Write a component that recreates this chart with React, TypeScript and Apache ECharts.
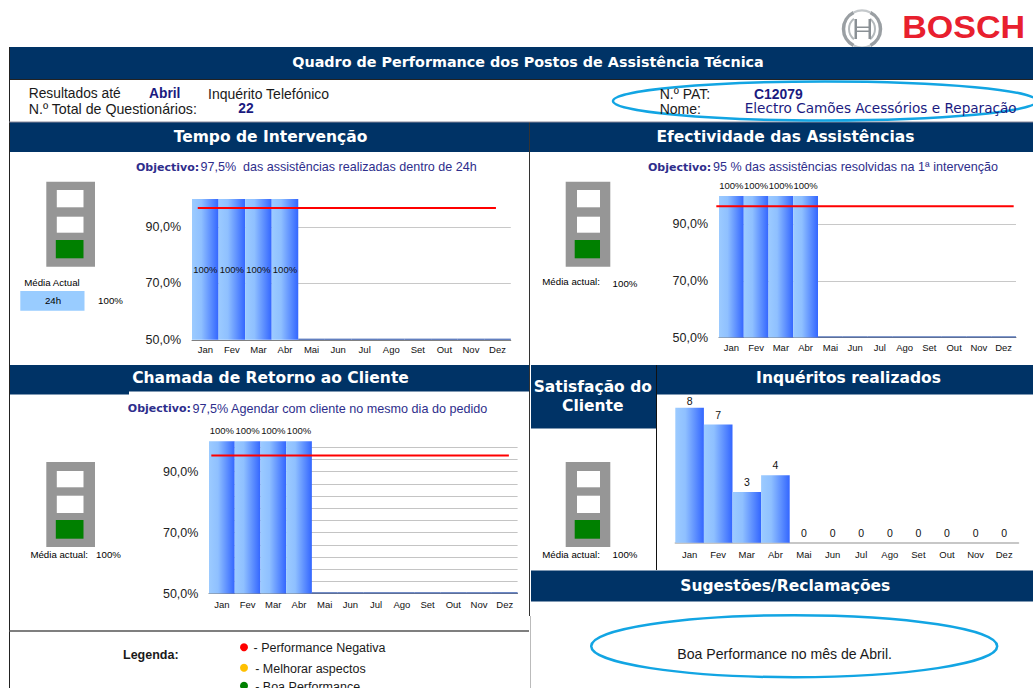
import React, { useEffect, useRef } from "react";
import * as echarts from "echarts";

const months = ["Jan", "Fev", "Mar", "Abr", "Mai", "Jun", "Jul", "Ago", "Set", "Out", "Nov", "Dez"];
const tempoValues = [100, 100, 100, 100, 50.4, 50.4, 50.4, 50.4, 50.4, 50.4, 50.4, 50.4];
const efectividadeValues = [100, 100, 100, 100, 50.4, 50.4, 50.4, 50.4, 50.4, 50.4, 50.4, 50.4];
const chamadaValues = [100, 100, 100, 100, 50.4, 50.4, 50.4, 50.4, 50.4, 50.4, 50.4, 50.4];
const inqueritosValues = [8, 7, 3, 4, 0, 0, 0, 0, 0, 0, 0, 0];
const tempoTarget = [96.8, 96.8, 96.8, 96.8, 96.8, 96.8, 96.8, 96.8, 96.8, 96.8, 96.8, 96.8];
const efectividadeTarget = [96.4, 96.4, 96.4, 96.4, 96.4, 96.4, 96.4, 96.4, 96.4, 96.4, 96.4, 96.4];
const chamadaTarget = [95.3, 95.3, 95.3, 95.3, 95.3, 95.3, 95.3, 95.3, 95.3, 95.3, 95.3, 95.3];
const yTickLabels = [50, 70, 90];

const NAVY = "#003366";
const INK = "#1A1A80";
const GOAL = "#2E2E8C";
const ARIAL = '"Liberation Sans", Arial, sans-serif';
const WIDE = '"DejaVu Sans", Verdana, sans-serif';
const barGradient = {
  type: "linear", x: 0, y: 0, x2: 1, y2: 0,
  colorStops: [
    { offset: 0, color: "#9CCBFF" },
    { offset: 0.35, color: "#8FC0FF" },
    { offset: 1, color: "#3366FF" },
  ],
};

const rect = (x: number, y: number, w: number, h: number, fill: string) => ({
  type: "rect", shape: { x, y, width: w, height: h }, style: { fill }, silent: true,
});
const txt = (
  x: number, y: number, text: string, size: number,
  o: { fill?: string; weight?: string; family?: string; align?: string; scaleX?: number } = {}
) => ({
  type: "text", x, y, scaleX: o.scaleX || 1, silent: true, z: 10,
  style: {
    text,
    fill: o.fill || "#1a1a1a",
    fontSize: size,
    fontWeight: o.weight || "normal",
    fontFamily: o.family || ARIAL,
    align: o.align || "left",
    textAlign: o.align || "left",
    verticalAlign: "middle",
    textVerticalAlign: "middle",
  },
});
const title = (x: number, y: number, text: string, size = 15.5) =>
  txt(x, y, text, size, { fill: "#fff", weight: "bold", family: WIDE, align: "center" });
const vline = (x: number, y1: number, y2: number, stroke: string, w = 1) => ({
  type: "line", shape: { x1: x, y1, x2: x, y2 }, style: { stroke, lineWidth: w }, silent: true,
});
const hline = (x1: number, x2: number, y: number, stroke: string, w = 1) => ({
  type: "line", shape: { x1, y1: y, x2, y2: y }, style: { stroke, lineWidth: w }, silent: true,
});
const light = (x: number, w: number, y: number, wx: number, ww: number, gx: number, gw: number, ys: number[]) => [
  rect(x, y, w, 85, "#969696"),
  rect(wx, ys[0], ww, ys[1] - ys[0], "#fff"),
  rect(wx, ys[2], ww, ys[3] - ys[2], "#fff"),
  rect(gx, ys[4], gw, ys[5] - ys[4], "#008000"),
];
const ellipse = (cx: number, cy: number, rx: number, ry: number, w: number) => ({
  type: "ellipse", shape: { cx, cy, rx, ry }, style: { fill: "none", stroke: "#12A5E3", lineWidth: w }, silent: true, z: 5,
});
const logoArc = (r: number, a1: number, a2: number, stroke: string, w: number) => ({
  type: "arc", shape: { cx: 862, cy: 29, r, startAngle: a1, endAngle: a2 }, style: { fill: "none", stroke, lineWidth: w }, silent: true,
});

const graphicElements: any[] = [
  // logo
  logoArc(18.5, -1.1, 1.1, "#9A9FA3", 3.5),
  logoArc(18.5, Math.PI - 1.1, Math.PI + 1.1, "#9A9FA3", 3.5),
  logoArc(18.5, 1.1, Math.PI - 1.1, "#C4C8CB", 2),
  logoArc(18.5, Math.PI + 1.1, -1.1 + 2 * Math.PI, "#C4C8CB", 2),
  logoArc(13, -0.9, 0.9, "#B4B9BC", 2),
  logoArc(13, Math.PI - 0.9, Math.PI + 0.9, "#B4B9BC", 2),
  rect(854.5, 19, 2.5, 20, "#8A9095"),
  rect(868.5, 19, 2.5, 20, "#8A9095"),
  rect(856, 26.5, 13, 1.5, "#8A9095"),
  rect(856, 30.5, 13, 1.5, "#8A9095"),
  txt(1025, 26.5, "BOSCH", 31.5, { fill: "#E8202E", weight: "bold", align: "right", scaleX: 1.08 }),

  // bands
  rect(9, 47, 1024, 32, NAVY),
  rect(9, 122, 520, 30, NAVY),
  rect(530, 122, 503, 30, NAVY),
  rect(9, 365, 120, 29.5, NAVY),
  rect(129, 365, 400, 26.5, NAVY),
  rect(531, 365, 125, 63.5, NAVY),
  rect(657, 365, 376, 29.5, NAVY),
  rect(531, 570.5, 502, 31, NAVY),

  // frame lines
  vline(9.5, 47, 688, "#222"),
  vline(529.5, 122, 365, "#333"),
  vline(529.5, 365, 616, "#333"),
  vline(530.5, 616, 688, "#bbb"),
  vline(656.5, 365, 570, "#111"),
  hline(9, 1033, 79.5, "#222"),
  hline(9, 1033, 122, "#889"),
  hline(9, 529, 631, "#555", 1.5),

  // titles
  title(528, 62, "Quadro de Performance dos Postos de Assistência Técnica", 14.35),
  title(270.5, 137, "Tempo de Intervenção"),
  title(785.5, 137, "Efectividade das Assistências"),
  title(270.5, 378.3, "Chamada de Retorno ao Cliente"),
  title(592.8, 386.7, "Satisfação do"),
  title(592.8, 406, "Cliente"),
  title(848.5, 378.3, "Inquéritos realizados"),
  title(785.3, 586, "Sugestões/Reclamações"),

  // info row
  txt(28.7, 93.5, "Resultados até", 13.8),
  txt(149, 93.5, "Abril", 13.8, { fill: INK, weight: "bold" }),
  txt(208, 93.5, "Inquérito Telefónico", 14),
  txt(28.7, 108.7, "N.º Total de Questionários:", 14.2),
  txt(238.3, 108.7, "22", 13.8, { fill: INK, weight: "bold" }),
  txt(659.7, 93.5, "N.º PAT:", 14),
  txt(754, 93.5, "C12079", 13.9, { fill: INK, weight: "bold" }),
  txt(659.7, 108.7, "Nome:", 14),
  txt(744.7, 107.5, "Electro Camões Acessórios e Reparação", 13.6, { fill: INK, family: WIDE }),
  ellipse(825, 101, 212, 19.5, 2.5),

  // objectives
  txt(136, 167.3, "Objectivo:", 11, { fill: GOAL, weight: "bold", family: WIDE }),
  txt(200.5, 167.3, "97,5%  das assistências realizadas dentro de 24h", 12.55, { fill: GOAL }),
  txt(648, 167.3, "Objectivo:", 11, { fill: GOAL, weight: "bold", family: WIDE }),
  txt(713, 167.3, "95 % das assistências resolvidas na 1ª intervenção", 12.55, { fill: GOAL }),
  txt(127.8, 408.7, "Objectivo:", 11, { fill: GOAL, weight: "bold", family: WIDE }),
  txt(192.5, 408.7, "97,5% Agendar com cliente no mesmo dia do pedido", 12.6, { fill: GOAL }),

  // traffic lights
  ...light(46.3, 48.7, 181.7, 56.8, 26.7, 55.8, 27.7, [190, 207.3, 216.7, 232.7, 240, 258.3]),
  ...light(565.7, 44.6, 181.7, 577, 23, 574.7, 25.3, [190, 207.3, 216.7, 232.7, 240, 258.3]),
  ...light(46.3, 48.7, 462, 56.8, 26.7, 55.8, 27.7, [471, 487.3, 495.7, 513, 520, 538.7]),
  ...light(565.7, 44.6, 462, 577, 23, 574.7, 25.3, [471, 487.3, 495.7, 513, 520, 538.7]),

  // averages
  txt(52, 282.7, "Média Actual", 9.7, { fill: "#000", align: "center" }),
  rect(20.3, 291, 64.2, 19.7, "#99CCFF"),
  txt(53, 300, "24h", 9.7, { fill: "#000", align: "center" }),
  txt(110.5, 300, "100%", 9.7, { fill: "#000", align: "center" }),
  txt(542.3, 281.7, "Média actual:", 9.7, { fill: "#000" }),
  txt(625, 283, "100%", 9.7, { fill: "#000", align: "center" }),
  txt(30.4, 554.7, "Média actual:", 9.7, { fill: "#000" }),
  txt(108.5, 554.7, "100%", 9.7, { fill: "#000", align: "center" }),
  txt(542.3, 554.7, "Média actual:", 9.7, { fill: "#000" }),
  txt(625, 554.7, "100%", 9.7, { fill: "#000", align: "center" }),

  // legend
  txt(123, 655.3, "Legenda:", 12.5, { weight: "bold" }),
  { type: "circle", shape: { cx: 244, cy: 647.3, r: 4 }, style: { fill: "#FF0000" }, silent: true },
  txt(253.5, 648.3, "- Performance Negativa", 12.5),
  { type: "circle", shape: { cx: 244, cy: 667.7, r: 4 }, style: { fill: "#FFC000" }, silent: true },
  txt(255.2, 668.5, "- Melhorar aspectos", 12.5),
  { type: "circle", shape: { cx: 244, cy: 685.7, r: 4 }, style: { fill: "#008000" }, silent: true },
  txt(255.2, 687, "- Boa Performance", 12.5),

  // comment
  ellipse(794.2, 646.2, 203, 31, 2.5),
  txt(677.3, 653.7, "Boa Performance no mês de Abril.", 14.1),
];

type Panel = {
  left: number; width: number; top: number; bottom: number;
  redLeft: number; redWidth: number; interval: number; labelPos: string; labelMargin: number; monthMargin: number;
  values: number[]; target: number[]; gridStroke: string;
};

const panels: Panel[] = [
  { left: 192, width: 318.8, top: 199, bottom: 339.8, redLeft: 184.2, redWidth: 325.3, interval: 20, labelPos: "inside", labelMargin: 11, monthMargin: 5, values: tempoValues, target: tempoTarget, gridStroke: "#c8c8c8" },
  { left: 719, width: 297, top: 196, bottom: 337.5, redLeft: 702.8, redWidth: 324.4, interval: 20, labelPos: "top", labelMargin: 11, monthMargin: 5, values: efectividadeValues, target: efectividadeTarget, gridStroke: "#c8c8c8" },
  { left: 209, width: 308.6, top: 441.3, bottom: 593.5, redLeft: 197.8, redWidth: 324.6, interval: 4, labelPos: "top", labelMargin: 10.6, monthMargin: 6, values: chamadaValues, target: chamadaTarget, gridStroke: "#c4c4c4" },
];

function buildOption() {
  const grid: any[] = [];
  const xAxis: any[] = [];
  const yAxis: any[] = [];
  const series: any[] = [];
  const monthLabel = { color: "#111", fontSize: 9.5, fontFamily: ARIAL, interval: 0 };

  panels.forEach((p) => {
    const i = grid.length;
    grid.push({ left: p.left, width: p.width, top: p.top, height: p.bottom - p.top });
    xAxis.push({
      type: "category", gridIndex: i, data: months,
      axisTick: { show: false }, axisLine: { lineStyle: { color: "#808080", width: 1 } },
      axisLabel: { ...monthLabel, margin: p.monthMargin },
    });
    yAxis.push({
      type: "value", gridIndex: i, min: 50, max: 100, interval: p.interval,
      axisLine: { show: false }, axisTick: { show: false },
      splitLine: { show: true, showMinLine: false, showMaxLine: false, lineStyle: { color: p.gridStroke, width: 1 } },
      axisLabel: {
        color: "#222", fontSize: 12.5, fontFamily: ARIAL, margin: p.labelMargin, showMaxLabel: false,
        formatter: (v: number) => (yTickLabels.includes(v) ? `${v},0%` : ""),
      },
    });
    series.push({
      type: "bar", xAxisIndex: i, yAxisIndex: i, data: p.values, barCategoryGap: 0, z: 3,
      itemStyle: { color: (d: any) => (d.value >= 100 ? barGradient : "#3A5FB0") },
      label: {
        show: true, position: p.labelPos, distance: 6, color: "#111", fontSize: 9.5, fontFamily: ARIAL,
        formatter: (d: any) => (d.value >= 100 ? "100%" : ""),
      },
    });
    const j = grid.length;
    grid.push({ left: p.redLeft, width: p.redWidth, top: p.top, height: p.bottom - p.top });
    xAxis.push({ type: "category", gridIndex: j, data: months, show: false });
    yAxis.push({ type: "value", gridIndex: j, min: 50, max: 100, show: false, splitLine: { show: false } });
    series.push({
      type: "line", xAxisIndex: j, yAxisIndex: j, data: p.target, showSymbol: false, z: 6,
      lineStyle: { color: "#FF0000", width: 2 },
    });
  });

  const k = grid.length;
  grid.push({ left: 675.3, width: 343.2, top: 407.7, height: 135 });
  xAxis.push({
    type: "category", gridIndex: k, data: months,
    axisTick: { show: false }, axisLine: { lineStyle: { color: "#b4b4b4", width: 1.5 } },
    axisLabel: { ...monthLabel, margin: 6.5 },
  });
  yAxis.push({ type: "value", gridIndex: k, min: 0, max: 8, show: false, splitLine: { show: false } });
  series.push({
    type: "bar", xAxisIndex: k, yAxisIndex: k, data: inqueritosValues, barCategoryGap: 0, z: 3,
    itemStyle: { color: barGradient },
    label: { show: true, position: "top", distance: 4.5, color: "#111", fontSize: 10.5, fontFamily: ARIAL },
    labelLayout: (p: any) => (p.dataIndex === 0 ? { dy: 3 } : {}),
  });

  return {
    animation: false,
    backgroundColor: "#fff",
    grid, xAxis, yAxis, series,
    graphic: { elements: graphicElements },
  };
}

export default function App() {
  const ref = useRef<HTMLDivElement>(null);
  useEffect(() => {
    document.body.style.margin = "0";
    const chart = echarts.init(ref.current!, undefined, { renderer: "svg" });
    chart.setOption(buildOption() as any);
    return () => chart.dispose();
  }, []);
  return <div ref={ref} style={{ width: 1033, height: 688 }} />;
}
